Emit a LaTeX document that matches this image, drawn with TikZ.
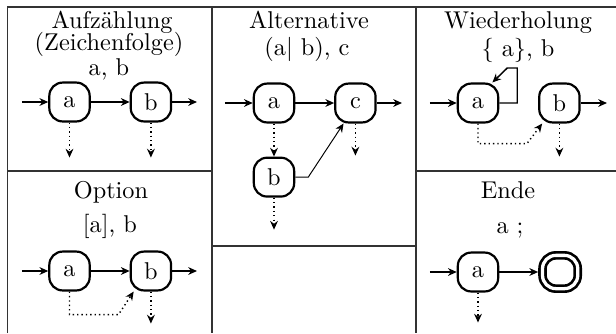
\documentclass[tikz,border=0pt]{standalone}
\usepackage{tikz}
\usetikzlibrary{arrows.meta,positioning}
\definecolor{rule}{HTML}{333333}

\begin{document}
\begin{tikzpicture}[
    x=0.4115pt,y=0.4115pt,
    node distance=16pt,
    state/.style={draw,line width=0.9pt,rounded corners=5.5pt,minimum width=16.6pt,minimum height=16pt,inner sep=0pt},
    final/.style={state,line width=1.1pt,double,double distance=1.35pt,outer sep=1.8pt,minimum width=14.5pt,minimum height=13.7pt,rounded corners=5.5pt},
    title/.style={anchor=base,inner sep=0pt},
    arrow/.style={-{Stealth[length=3.6pt,width=3.2pt]},semithick},
    dotarrow/.style={arrow,dash pattern=on 0.55pt off 1.25pt},
    frame/.style={draw=rule,line width=0.8pt}
  ]
    % frame of the table
    \useasboundingbox (0,0) rectangle (616,-333);
    \draw[frame] (7.5,-333) -- (7.5,-7) -- (616,-7);
    \draw[frame] (212,-7) -- (212,-333);
    \draw[frame] (416,-7) -- (416,-333);
    \draw[frame] (7.5,-171) -- (212,-171);
    \draw[frame] (212,-246) -- (416,-246);
    \draw[frame] (416,-171) -- (616,-171);

    % Aufzaehlung
    \node[title] (t1) at (112,-28) {Aufzählung};
    \node[title] (t1b) at (109,-50) {(Zeichenfolge)};
    \node[title] (t1c) at (109,-75) {a, b};
    \node[state] (a1) at (69.5,-102) {a};
    \node[state,right=of a1] (b1) {b};
    \coordinate (in1) at (22,-102);
    \coordinate (out1) at (197,-102);
    \draw[arrow] (in1) -- (a1);
    \draw[arrow] (a1) -- (b1);
    \draw[arrow] (b1) -- (out1);
    \draw[dotarrow] (a1.south) -- ++(0,-35);
    \draw[dotarrow] (b1.south) -- ++(0,-35);

    % Alternative
    \node[title] (t2) at (309,-28) {Alternative};
    \node[title] (t2b) at (307,-55) {(a$|$ b), c};
    \node[state] (a2) at (274,-103) {a};
    \node[state,right=of a2] (c2) {c};
    \node[state,below=13.6pt of a2] (b2) {b};
    \coordinate (in2) at (225,-103);
    \coordinate (out2) at (402,-103);
    \draw[arrow] (in2) -- (a2);
    \draw[arrow] (a2) -- (c2);
    \draw[arrow] (c2) -- (out2);
    \draw[dotarrow] (a2) -- (b2);
    \draw[arrow,thin] (b2.east) -- ++(13,0) -- (c2.240);
    \draw[dotarrow] (b2.south) -- ++(0,-32);
    \draw[dotarrow] (c2.south) -- ++(0,-32);

    % Wiederholung
    \node[title] (t3) at (518,-28) {Wiederholung};
    \node[title] (t3b) at (518,-56) {\{ a\}, b};
    \node[state] (a3) at (478,-103) {a};
    \node[state,right=of a3] (b3) {b};
    \coordinate (in3) at (430,-103);
    \coordinate (out3) at (607,-103);
    \draw[arrow] (in3) -- (a3);
    \draw[arrow] (b3) -- (out3);
    \draw[arrow] (a3.east) -- ++(18,0) |- ++(-10,35) -- (a3.55);
    \draw[dotarrow] (a3.south) -- ++(0,-20) -- ++(49,0) -- (b3.230);
    \draw[dotarrow] (b3.south) -- ++(0,-33);

    % Option
    \node[title] (t4) at (111,-198) {Option};
    \node[title] (t4b) at (110,-232) {[a], b};
    \node[state] (a4) at (69.5,-271) {a};
    \node[state,right=of a4] (b4) {b};
    \coordinate (in4) at (22,-271);
    \coordinate (out4) at (197,-271);
    \draw[arrow] (in4) -- (a4);
    \draw[arrow] (a4) -- (b4);
    \draw[arrow] (b4) -- (out4);
    \draw[dotarrow] (a4.south) -- ++(0,-23) -- ++(49,0) -- (b4.230);
    \draw[dotarrow] (b4.south) -- ++(0,-32);

    % Ende
    \node[title] (t6) at (508,-198) {Ende};
    \node[title] (t6b) at (510,-233) {a ;};
    \node[state] (a6) at (478,-272) {a};
    \node[final,right=of a6] (e6) {};
    \coordinate (in6) at (430,-272);
    \draw[arrow] (in6) -- (a6);
    \draw[arrow] (a6) -- (e6);
    \draw[dotarrow] (a6.south) -- ++(0,-30);
  \end{tikzpicture}
\end{document}
